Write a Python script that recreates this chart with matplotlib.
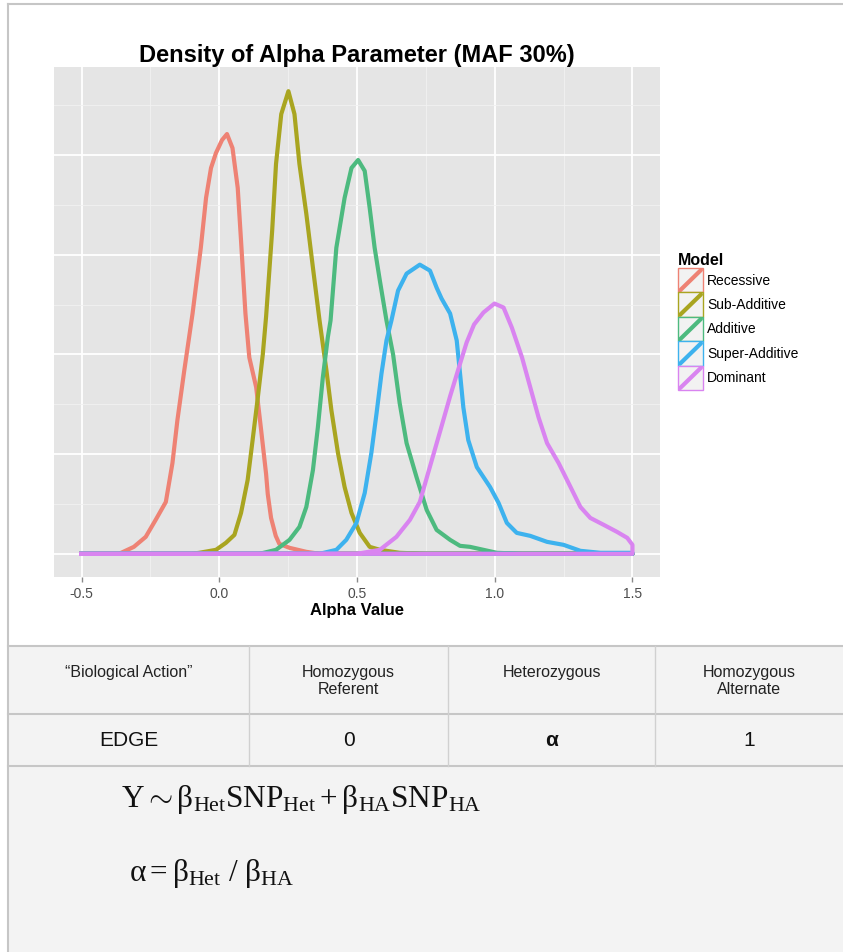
import numpy as np
import matplotlib
matplotlib.use('Agg')
import matplotlib.pyplot as plt
from matplotlib.legend_handler import HandlerBase
from matplotlib.patches import Rectangle
from matplotlib.lines import Line2D

plt.rcParams['font.family'] = ['Liberation Sans', 'DejaVu Sans']
plt.rcParams['mathtext.fontset'] = 'custom'
plt.rcParams['mathtext.rm'] = 'Liberation Serif'
plt.rcParams['mathtext.it'] = 'Liberation Serif:italic'
plt.rcParams['mathtext.bf'] = 'Liberation Serif:bold'

# density curves (alpha value, density)
models = ['Recessive', 'Sub-Additive', 'Additive', 'Super-Additive', 'Dominant']
colors = ['#EE8274', '#A9A520', '#4DBA7F', '#3DB2EE', '#D984F0']

recessive_x = [-0.5, -0.364, -0.31, -0.267, -0.231, -0.194, -0.17, -0.152, -0.127, -0.097,
               -0.067, -0.048, -0.03, -0.012, 0.01, 0.028, 0.048, 0.067, 0.079, 0.095,
               0.109, 0.134, 0.152, 0.17, 0.176, 0.188, 0.205, 0.218, 0.255, 0.316, 0.364, 1.5]
recessive_y = [0.0, 0.0, 0.07, 0.17, 0.34, 0.52, 0.91, 1.34, 1.84, 2.41,
               3.07, 3.57, 3.87, 4.02, 4.15, 4.21, 4.07, 3.67, 3.14, 2.41,
               1.97, 1.67, 1.24, 0.80, 0.60, 0.36, 0.18, 0.10, 0.06, 0.02, 0.0, 0.0]

subadd_x = [-0.5, -0.1, -0.073, -0.012, 0.024, 0.055, 0.079, 0.103, 0.121, 0.14,
            0.158, 0.17, 0.192, 0.206, 0.225, 0.251, 0.273, 0.291, 0.316, 0.34,
            0.364, 0.389, 0.407, 0.431, 0.455, 0.48, 0.51, 0.546, 0.583, 0.655, 0.75, 1.5]
subadd_y = [0.0, 0.0, 0.01, 0.04, 0.11, 0.19, 0.41, 0.74, 1.14, 1.57,
            2.0, 2.38, 3.24, 3.91, 4.41, 4.64, 4.41, 3.91, 3.41, 2.87,
            2.34, 1.84, 1.44, 1.01, 0.67, 0.41, 0.21, 0.07, 0.04, 0.01, 0.0, 0.0]

additive_x = [-0.5, 0.146, 0.206, 0.255, 0.291, 0.316, 0.34, 0.358, 0.376, 0.394,
              0.404, 0.425, 0.455, 0.48, 0.504, 0.528, 0.546, 0.564, 0.583, 0.607,
              0.631, 0.655, 0.68, 0.716, 0.753, 0.789, 0.838, 0.874, 0.91, 0.959, 1.008, 1.1, 1.5]
additive_y = [0.0, 0.0, 0.04, 0.14, 0.27, 0.47, 0.84, 1.27, 1.77, 2.17,
              2.34, 3.07, 3.57, 3.87, 3.95, 3.84, 3.47, 3.07, 2.74, 2.34,
              2.0, 1.51, 1.11, 0.77, 0.44, 0.24, 0.14, 0.08, 0.07, 0.04, 0.01, 0.0, 0.0]

superadd_x = [-0.5, 0.364, 0.425, 0.461, 0.498, 0.528, 0.552, 0.571, 0.589, 0.607,
              0.625, 0.649, 0.68, 0.728, 0.765, 0.789, 0.807, 0.838, 0.862, 0.874,
              0.886, 0.904, 0.935, 0.983, 1.014, 1.044, 1.08, 1.129, 1.19, 1.25,
              1.311, 1.384, 1.5]
superadd_y = [0.0, 0.0, 0.04, 0.14, 0.31, 0.61, 1.01, 1.41, 1.81, 2.14,
              2.34, 2.64, 2.81, 2.90, 2.84, 2.67, 2.56, 2.41, 2.14, 1.81,
              1.47, 1.14, 0.87, 0.67, 0.51, 0.31, 0.21, 0.18, 0.12, 0.09,
              0.03, 0.01, 0.01]

dominant_x = [-0.5, 0.5, 0.583, 0.643, 0.692, 0.728, 0.755, 0.78, 0.805, 0.838,
              0.87, 0.898, 0.925, 0.959, 0.999, 1.032, 1.062, 1.099, 1.129, 1.159,
              1.19, 1.232, 1.268, 1.311, 1.347, 1.396, 1.444, 1.481, 1.5]
dominant_y = [0.0, 0.0, 0.04, 0.17, 0.34, 0.52, 0.78, 1.02, 1.26, 1.58,
              1.87, 2.12, 2.30, 2.42, 2.51, 2.47, 2.27, 1.97, 1.67, 1.37,
              1.11, 0.91, 0.71, 0.47, 0.36, 0.29, 0.22, 0.16, 0.09]

x_ticks = [-0.5, 0.0, 0.5, 1.0, 1.5]
x_tick_labels = ['-0.5', '0.0', '0.5', '1.0', '1.5']

# table below the chart
table_header = ['\u201cBiological Action\u201d', 'Homozygous\nReferent', 'Heterozygous', 'Homozygous\nAlternate']
table_row = ['EDGE', '0', 'α', '1']

formula_model = r'$\mathrm{Y}\sim\mathrm{β}_{\mathrm{Het}}\mathrm{SNP}_{\mathrm{Het}}+\mathrm{β}_{\mathrm{HA}}\mathrm{SNP}_{\mathrm{HA}}$'
formula_alpha = r'$\mathrm{α}=\mathrm{β}_{\mathrm{Het}}\ /\ \mathrm{β}_{\mathrm{HA}}$'

W, H = 843, 952


class KeyHandler(HandlerBase):
    # ggplot style key: grey box with a diagonal stroke
    def create_artists(self, legend, orig_handle, xdescent, ydescent, width, height, fontsize, trans):
        col = orig_handle.get_color()
        box = Rectangle((-xdescent, -ydescent), width, height, facecolor='#F2F2F2',
                        edgecolor=col, lw=1.0, transform=trans)
        diag = Line2D([-xdescent + 1.5, -xdescent + width - 1.5],
                      [-ydescent + 1.5, -ydescent + height - 1.5],
                      color=col, lw=3, solid_capstyle='round', transform=trans)
        return [box, diag]


def draw_density(fig):
    ax = fig.add_axes([54 / W, 1 - 577 / H, (660 - 54) / W, (577 - 67) / H], zorder=2)
    ax.set_facecolor('#E5E5E5')
    series = [(recessive_x, recessive_y), (subadd_x, subadd_y), (additive_x, additive_y),
              (superadd_x, superadd_y), (dominant_x, dominant_y)]
    handles = []
    for (xs, ys), name, col in zip(series, models, colors):
        # outline closes along the baseline like geom_density
        px = list(xs) + [xs[-1], xs[0]]
        py = list(ys) + [0.0, ys[0]]
        line, = ax.plot(px, py, color=col, lw=3, solid_joinstyle='round', label=name)
        handles.append(line)

    ax.set_xlim(-0.6, 1.6)
    ax.set_ylim(-0.2325, 4.8825)
    ax.set_xticks(x_ticks)
    ax.set_xticklabels(x_tick_labels)
    ax.set_xticks([-0.25, 0.25, 0.75, 1.25], minor=True)
    ax.set_yticks(np.arange(0, 5, 1.0))
    ax.set_yticklabels([])
    ax.set_yticks(np.arange(0.5, 5, 1.0), minor=True)
    ax.tick_params(axis='x', which='major', length=3.5, width=1, color='#8A8A8A', labelsize=10,
                   labelcolor='#4D4D4D', pad=4)
    ax.tick_params(axis='both', which='minor', length=0)
    ax.tick_params(axis='y', which='major', length=0)
    ax.grid(which='major', color='white', lw=1.3)
    ax.grid(which='minor', color='#F2F2F2', lw=0.6)
    ax.set_axisbelow(True)
    for s in ax.spines.values():
        s.set_visible(False)

    ax.set_title('Density of Alpha Parameter (MAF 30%)', fontsize=17, fontweight='bold', pad=3)
    ax.set_xlabel('Alpha Value', fontsize=12, fontweight='bold', labelpad=1)

    fig.legend(handles, models, loc='upper left', bbox_to_anchor=(678 / W, 1 - 253 / H),
               handler_map={Line2D: KeyHandler()}, frameon=False, fontsize=10,
               title='Model', title_fontproperties={'weight': 'bold', 'size': 11.5},
               alignment='left', handlelength=1.8, handleheight=2.33, labelspacing=0,
               handletextpad=0.3, borderpad=0, borderaxespad=0)
    return ax


def draw_table(fig):
    bg = fig.add_axes([0, 0, 1, 1], zorder=0)
    bg.set_xlim(0, W)
    bg.set_ylim(H, 0)
    bg.axis('off')

    edge = '#C6C6C6'
    # grey panel under the table and formulas
    bg.add_patch(Rectangle((8, 646), W - 8, H - 646, facecolor='#F3F3F3', edgecolor='none'))
    # outer frame of the slide
    bg.plot([8, 8], [4, H], color=edge, lw=1.5)
    bg.plot([8, W], [4, 4], color=edge, lw=1.5)

    col_edges = [8, 249, 448, 655, W]
    for y in [646, 714, 766]:
        bg.plot([8, W], [y, y], color=edge, lw=1.5)
    for x in col_edges[1:-1]:
        bg.plot([x, x], [646, 766], color='#D0D0D0', lw=1)

    for i, (head, cell) in enumerate(zip(table_header, table_row)):
        cx = (col_edges[i] + col_edges[i + 1]) / 2
        bg.text(cx, 665, head, ha='center', va='top', fontsize=11.5, color='#222222',
                linespacing=1.15)
        bg.text(cx, 741, cell, ha='center', va='center', fontsize=15, color='#111111',
                fontweight='bold' if cell == 'α' else 'normal')

    bg.text(121, 800, formula_model, ha='left', va='center', fontsize=22.5, color='#111111')
    bg.text(129, 873, formula_alpha, ha='left', va='center', fontsize=22.5, color='#111111')


if __name__ == '__main__':
    fig = plt.figure(figsize=(W / 100, H / 100), dpi=100)
    fig.patch.set_facecolor('white')
    draw_table(fig)
    draw_density(fig)
    fig.savefig('out.png', dpi=100)
